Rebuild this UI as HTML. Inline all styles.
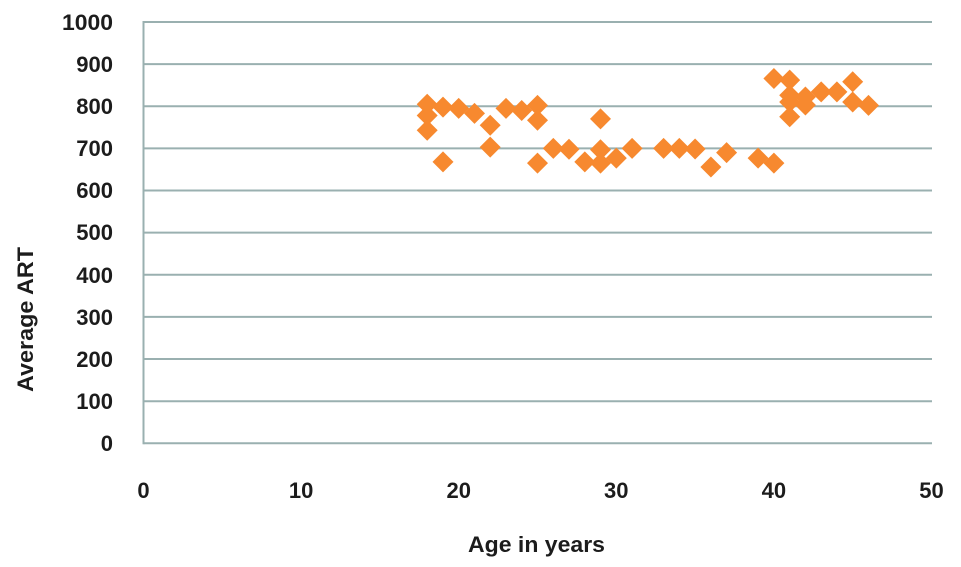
<!DOCTYPE html>
<html><head><meta charset="utf-8"><style>
html,body{margin:0;padding:0;background:#fff;}
svg{display:block;}
text{font-family:"Liberation Sans",Arial,sans-serif;font-weight:bold;fill:#1c1c1c;}
</style></head><body>
<svg width="961" height="567" viewBox="0 0 961 567" xmlns="http://www.w3.org/2000/svg">
<defs><path id="d" d="M0,-10.5 L10.5,0 L0,10.5 L-10.5,0Z" fill="#F7892F"/></defs>
<g stroke="#9AB0B0" stroke-width="2" fill="none">
<line x1="143.5" y1="22" x2="932" y2="22"/>
<line x1="143.5" y1="64.1" x2="932" y2="64.1"/>
<line x1="143.5" y1="106.3" x2="932" y2="106.3"/>
<line x1="143.5" y1="148.4" x2="932" y2="148.4"/>
<line x1="143.5" y1="190.5" x2="932" y2="190.5"/>
<line x1="143.5" y1="232.6" x2="932" y2="232.6"/>
<line x1="143.5" y1="274.8" x2="932" y2="274.8"/>
<line x1="143.5" y1="316.9" x2="932" y2="316.9"/>
<line x1="143.5" y1="359" x2="932" y2="359"/>
<line x1="143.5" y1="401.2" x2="932" y2="401.2"/>
<line x1="143.5" y1="443.3" x2="932" y2="443.3"/>
<line x1="143.5" y1="21" x2="143.5" y2="444.3"/>
</g>
<g font-size="22" text-anchor="end">
<text x="113" y="30" textLength="51" lengthAdjust="spacingAndGlyphs">1000</text>
<text x="113" y="72">900</text>
<text x="113" y="114">800</text>
<text x="113" y="156">700</text>
<text x="113" y="198">600</text>
<text x="113" y="240">500</text>
<text x="113" y="283">400</text>
<text x="113" y="325">300</text>
<text x="113" y="367">200</text>
<text x="113" y="409">100</text>
<text x="113" y="451">0</text>
</g>
<g font-size="22" text-anchor="middle">
<text x="143.5" y="498">0</text>
<text x="301.1" y="498">10</text>
<text x="458.7" y="498">20</text>
<text x="616.3" y="498">30</text>
<text x="773.9" y="498">40</text>
<text x="931.5" y="498">50</text>
</g>
<text x="536.5" y="552" font-size="22" text-anchor="middle" textLength="137" lengthAdjust="spacingAndGlyphs">Age in years</text>
<text transform="translate(33,319.5) rotate(-90)" x="0" y="0" font-size="22" text-anchor="middle" textLength="145" lengthAdjust="spacingAndGlyphs">Average ART</text>
<g>
<use href="#d" x="427.2" y="104.2"/>
<use href="#d" x="427.2" y="115.5"/>
<use href="#d" x="427.2" y="130.3"/>
<use href="#d" x="443" y="107.1"/>
<use href="#d" x="443" y="161.9"/>
<use href="#d" x="458.7" y="108.4"/>
<use href="#d" x="474.5" y="113.4"/>
<use href="#d" x="490.2" y="125.2"/>
<use href="#d" x="490.2" y="147.1"/>
<use href="#d" x="506" y="108.4"/>
<use href="#d" x="521.7" y="110.5"/>
<use href="#d" x="537.5" y="105.4"/>
<use href="#d" x="537.5" y="120.2"/>
<use href="#d" x="537.5" y="163.1"/>
<use href="#d" x="553.3" y="148.4"/>
<use href="#d" x="569" y="149.2"/>
<use href="#d" x="584.8" y="161.9"/>
<use href="#d" x="600.5" y="118.9"/>
<use href="#d" x="600.5" y="149.7"/>
<use href="#d" x="600.5" y="163.1"/>
<use href="#d" x="616.3" y="158.1"/>
<use href="#d" x="632.1" y="148.4"/>
<use href="#d" x="663.6" y="148.4"/>
<use href="#d" x="679.3" y="148.4"/>
<use href="#d" x="695.1" y="149"/>
<use href="#d" x="710.9" y="167"/>
<use href="#d" x="726.6" y="152.6"/>
<use href="#d" x="758.1" y="158.1"/>
<use href="#d" x="773.9" y="163.1"/>
<use href="#d" x="773.9" y="78.5"/>
<use href="#d" x="789.7" y="80.1"/>
<use href="#d" x="789.7" y="95.3"/>
<use href="#d" x="789.7" y="102"/>
<use href="#d" x="789.7" y="116.8"/>
<use href="#d" x="805.4" y="97"/>
<use href="#d" x="805.4" y="105"/>
<use href="#d" x="821.2" y="91.9"/>
<use href="#d" x="836.9" y="91.9"/>
<use href="#d" x="852.7" y="81.8"/>
<use href="#d" x="852.7" y="102"/>
<use href="#d" x="868.5" y="105.4"/>
</g>
</svg>
</body></html>
